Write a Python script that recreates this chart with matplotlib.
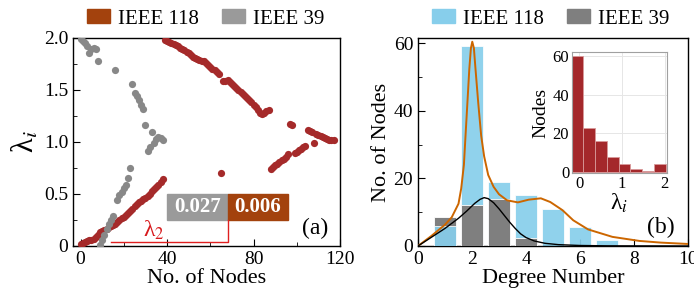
import matplotlib.pyplot as plt
import numpy as np
from matplotlib.patches import Patch, Rectangle

plt.rcParams['font.family'] = ['Liberation Serif', 'DejaVu Serif']
plt.rcParams['mathtext.fontset'] = 'stix'

# (a) eigenvalues per node
lam_118 = [0.02, 0.03, 0.04, 0.05, 0.055, 0.06, 0.07, 0.09, 0.11, 0.13,
           0.145, 0.155, 0.165, 0.18, 0.19, 0.205, 0.215, 0.235, 0.25, 0.27,
           0.28, 0.30, 0.32, 0.34, 0.36, 0.38, 0.40, 0.42, 0.43, 0.45,
           0.46, 0.48, 0.50, 0.53, 0.55, 0.57, 0.59, 0.62, 0.64,
           1.98, 1.97, 1.96, 1.95, 1.94, 1.93, 1.92, 1.90, 1.89, 1.88,
           1.87, 1.86, 1.84, 1.82, 1.81, 1.80, 1.79, 1.78, 1.78, 1.76,
           1.74, 1.72, 1.70, 1.69, 1.67, 1.65,
           0.70,
           1.59, 1.59, 1.60, 1.58, 1.56, 1.54, 1.52, 1.50, 1.48, 1.46,
           1.44, 1.42, 1.40, 1.38, 1.36, 1.34, 1.31, 1.28, 1.27, 1.28,
           1.30, 1.31,
           0.74, 0.76, 0.78, 0.79, 0.81, 0.83, 0.84, 0.86, 0.88, 1.17,
           1.16, 0.89, 0.905, 0.92, 0.935, 0.95, 0.965,
           1.12, 1.11, 1.10, 0.99, 1.08, 1.07, 1.06, 1.05, 1.04, 1.03,
           1.02, 1.02, 1.015]
lam_39 = [1.99, 1.97, 1.95, 1.92, 1.86, 1.89, 1.90, 1.89, 1.78,
          0.01, 0.06, 0.11, 0.16, 0.21, 0.25, 0.29, 1.69, 0.44, 0.49,
          0.52, 0.56, 0.59, 0.65, 0.75,
          1.56, 1.47, 1.44, 1.40, 1.36, 1.32, 1.16, 0.91, 0.95, 1.10,
          0.99, 1.03, 1.05, 1.04, 1.02]
lam2_118, lam2_39 = '0.006', '0.027'

# (b) degree distribution
degrees = [1, 2, 3, 4, 5, 6, 7]
deg_118 = [6, 59, 19, 15, 11, 5.5, 1.7]
deg_39 = [8.7, 12, 14, 2.4, 0, 0, 0]
fit_x_118 = [0, 0.5, 1.0, 1.25, 1.5, 1.6, 1.7, 1.76, 1.83, 1.9, 1.96, 2.01,
             2.07, 2.13, 2.23, 2.34, 2.45, 2.6, 2.8, 3.0, 3.3, 3.7, 4.1,
             4.55, 4.9, 5.35, 5.75, 6.3, 7.2, 8.2, 9.0, 10.0]
fit_y_118 = [0, 3.0, 6.3, 8.5, 12.5, 17, 24, 32.6, 42.4, 52.3, 58.5, 60.4,
             58.5, 52.3, 42.4, 32.6, 26.5, 21, 17.5, 15.3, 13.5, 12.9, 13.7,
             14.1, 13.0, 10.6, 7.6, 4.9, 2.7, 1.5, 1.0, 0.6]
fit_x_39 = [0, 0.5, 1.0, 1.5, 1.8, 2.1, 2.3, 2.45, 2.6, 2.8, 3.0, 3.2, 3.4,
            3.6, 3.8, 4.0, 4.3, 4.7, 5.2, 6.0, 7.0, 10.0]
fit_y_39 = [0, 2.6, 5.2, 8.2, 10.3, 12.6, 13.8, 14.3, 14.0, 12.8, 11.0, 9.0,
            7.0, 5.2, 3.6, 2.5, 1.5, 0.8, 0.4, 0.15, 0.05, 0]

# inset: histogram of lambda_i (IEEE 118)
inset_edges = [-0.18, 0.095, 0.37, 0.645, 0.92, 1.195, 1.47, 1.745, 2.02]
inset_counts = [60, 23, 16, 8, 4, 1.5, 0.5, 4]

red_pts = '#a52a2a'
brown = '#a3420d'
gray_pts = '#888888'
gray_box = '#9a9a9a'
blue = '#87ceeb'
gray_bar = '#7f7f7f'

fig = plt.figure(figsize=(6.94, 3.02), dpi=100)
ax1 = fig.add_axes([73 / 694, 56 / 302, 267 / 694, 208 / 302])
ax2 = fig.add_axes([418 / 694, 56 / 302, 270 / 694, 208 / 302])
axin = fig.add_axes([572 / 694, 129 / 302, 94.5 / 694, 121 / 302])

# ---- panel (a)
ax1.scatter(np.arange(len(lam_118)), lam_118, s=27, color=red_pts, lw=0, zorder=3)
ax1.scatter(np.arange(len(lam_39)), lam_39, s=27, color=gray_pts, lw=0, zorder=3)
ax1.set_xlim(-3.5, 120)
ax1.set_ylim(0, 2.0)
ax1.set_xticks([0, 40, 80, 120])
ax1.set_xticks([20, 60, 100], minor=True)
ax1.set_yticks([0, 0.5, 1.0, 1.5, 2.0])
ax1.set_yticklabels(['0', '0.5', '1.0', '1.5', '2.0'])
ax1.set_yticks([0.25, 0.75, 1.25, 1.75], minor=True)
ax1.set_xlabel('No. of Nodes', fontsize=16, labelpad=1)
ax1.set_ylabel('λ$_i$', fontsize=22, labelpad=2)

# lambda_2 boxes
ax1.add_patch(Rectangle((40, 0.25), 28, 0.25, color=gray_box, zorder=4))
ax1.add_patch(Rectangle((68, 0.25), 28, 0.25, color=brown, zorder=4))
ax1.text(54, 0.375, lam2_39, color='white', fontsize=15, fontweight='bold',
         ha='center', va='center', zorder=5)
ax1.text(82, 0.375, lam2_118, color='white', fontsize=15, fontweight='bold',
         ha='center', va='center', zorder=5)
ax1.plot([14, 68, 68], [0.036, 0.036, 0.25], color='#e02020', lw=1, zorder=4)
ax1.text(34, 0.15, 'λ$_2$', color='#d7191c', fontsize=17, ha='center', va='center')
ax1.text(0.905, 0.085, '(a)', transform=ax1.transAxes, fontsize=17,
         ha='center', va='center')

# ---- panel (b)
for d, b, g in zip(degrees, deg_118, deg_39):
    zb, zg = (3, 2) if b < g else (2, 3)
    ax2.bar(d, b, width=0.8, color=blue, edgecolor='white', lw=0.6, alpha=0.92, zorder=zb)
    ax2.bar(d, g, width=0.8, color=gray_bar, edgecolor='white', lw=0.6, zorder=zg)
ax2.plot(fit_x_118, fit_y_118, color='#cc6600', lw=1.4, zorder=5)
ax2.plot(fit_x_39, fit_y_39, color='black', lw=1.0, zorder=5)
ax2.set_xlim(0, 10)
ax2.set_ylim(0, 61.5)
ax2.set_xticks([0, 2, 4, 6, 8, 10])
ax2.set_yticks([0, 20, 40, 60])
ax2.set_yticks([10, 30, 50], minor=True)
ax2.set_xlabel('Degree Number', fontsize=16, labelpad=1)
ax2.set_ylabel('No. of Nodes', fontsize=16, labelpad=2)
ax2.text(0.9, 0.09, '(b)', transform=ax2.transAxes, fontsize=17,
         ha='center', va='center')

for ax in (ax1, ax2):
    ax.tick_params(which='both', direction='in', top=False, right=False,
                   labelsize=14)
    ax.tick_params(which='major', length=5)
    ax.tick_params(which='minor', length=3)
    for sp in ax.spines.values():
        sp.set_color('black')
        sp.set_linewidth(1)

# ---- inset
axin.set_axisbelow(True)
axin.grid(True, color='#e6e6e6', lw=0.7)
axin.bar(inset_edges[:-1], inset_counts, width=np.diff(inset_edges), align='edge',
         color='#a4282b', edgecolor='#d99a9a', lw=0.6)
axin.set_xlim(-0.165, 2.04)
axin.set_ylim(-0.5, 62)
axin.set_xticks([0, 1, 2])
axin.set_yticks([0, 20, 40, 60])
axin.tick_params(length=0, labelsize=12, pad=2)
axin.set_xlabel('λ$_i$', fontsize=17, labelpad=0)
axin.set_ylabel('Nodes', fontsize=14, labelpad=2)
for sp in axin.spines.values():
    sp.set_color('#a0a0a0')
    sp.set_linewidth(0.8)

# ---- legends
leg_kw = dict(loc='center', ncol=2, frameon=False, fontsize=15, handlelength=1.1,
              handleheight=0.65, handletextpad=0.4, columnspacing=1.1, borderpad=0)
fig.legend(handles=[Patch(color=brown, label='IEEE 118'),
                    Patch(color=gray_box, label='IEEE 39')],
           bbox_to_anchor=(206 / 694, 1 - 19 / 302), **leg_kw)
fig.legend(handles=[Patch(color=blue, label='IEEE 118'),
                    Patch(color=gray_bar, label='IEEE 39')],
           bbox_to_anchor=(551 / 694, 1 - 19 / 302), **leg_kw)

fig.savefig('out.png', dpi=100)
